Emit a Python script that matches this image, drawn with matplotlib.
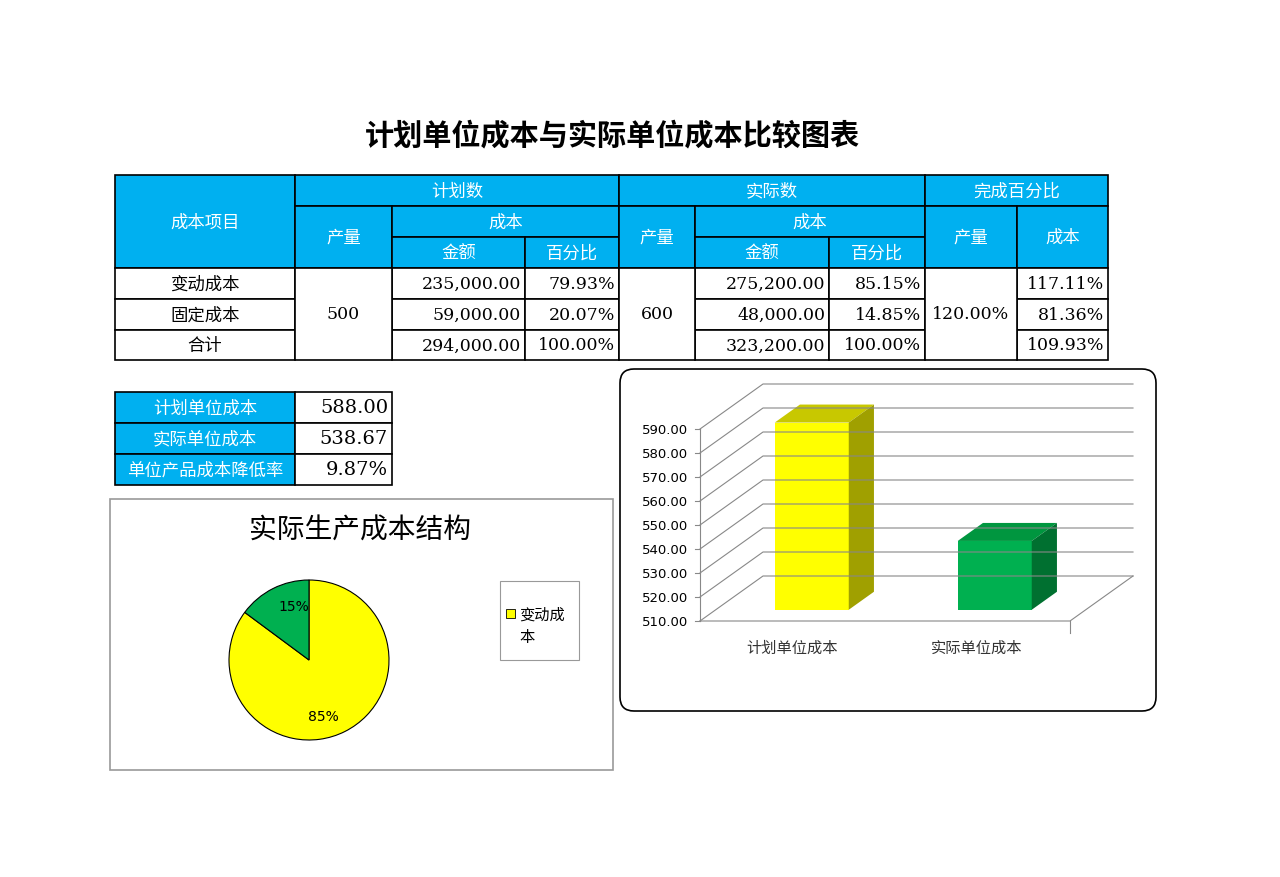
import matplotlib
matplotlib.use("Agg")
import matplotlib.pyplot as plt
from matplotlib.patches import Rectangle, Polygon, FancyBboxPatch

CJK = "Noto Sans CJK SC"
NUM = "DejaVu Serif"

title = "计划单位成本与实际单位成本比较图表"
row_labels = ["变动成本", "固定成本", "合计"]
plan_qty = "500"
plan_amount = ["235,000.00", "59,000.00", "294,000.00"]
plan_pct = ["79.93%", "20.07%", "100.00%"]
act_qty = "600"
act_amount = ["275,200.00", "48,000.00", "323,200.00"]
act_pct = ["85.15%", "14.85%", "100.00%"]
done_qty = "120.00%"
done_cost = ["117.11%", "81.36%", "109.93%"]
unit_labels = ["计划单位成本", "实际单位成本", "单位产品成本降低率"]
unit_values = ["588.00", "538.67", "9.87%"]

pie_title = "实际生产成本结构"
pie_labels = ["变动成本", "固定成本"]
pie_values = [85.15, 14.85]
pie_texts = ["85%", "15%"]

bar_categories = ["计划单位成本", "实际单位成本"]
bar_values = [588.00, 538.67]
y_ticks = [510, 520, 530, 540, 550, 560, 570, 580, 590]

BLUE = "#00B0F0"
fig = plt.figure(figsize=(12.8, 8.78), dpi=100)
ax0 = fig.add_axes([0, 0, 1, 1])
ax0.set_xlim(0, 1280); ax0.set_ylim(878, 0); ax0.axis("off")

ax0.text(612, 135, title, fontfamily=CJK, fontweight="bold", fontsize=21, ha="center", va="center")

def cell(x0, y0, x1, y1, txt, blue=False, font=CJK, ha="center", size=12.5):
    ax0.add_patch(Rectangle((x0, y0), x1 - x0, y1 - y0, fc=BLUE if blue else "white", ec="black", lw=1.2))
    if ha == "center":
        tx = (x0 + x1) / 2
    else:
        tx = x1 - 4
    ax0.text(tx, (y0 + y1) / 2, txt, fontfamily=font, fontsize=size, ha=ha, va="center",
             color="white" if blue else "black")

# header
cell(115, 176, 295, 269, "成本项目", True)
cell(295, 176, 619, 207, "计划数", True)
cell(619, 176, 925, 207, "实际数", True)
cell(925, 176, 1108, 207, "完成百分比", True)
cell(295, 207, 392, 269, "产量", True)
cell(392, 207, 619, 238, "成本", True)
cell(392, 238, 525, 269, "金额", True)
cell(525, 238, 619, 269, "百分比", True)
cell(619, 207, 695, 269, "产量", True)
cell(695, 207, 925, 238, "成本", True)
cell(695, 238, 829, 269, "金额", True)
cell(829, 238, 925, 269, "百分比", True)
cell(925, 207, 1017, 269, "产量", True)
cell(1017, 207, 1108, 269, "成本", True)
rows = [269, 300, 331, 361]
for i in range(3):
    y0, y1 = rows[i], rows[i + 1]
    cell(115, y0, 295, y1, row_labels[i])
    cell(392, y0, 525, y1, plan_amount[i], font=NUM, ha="right")
    cell(525, y0, 619, y1, plan_pct[i], font=NUM, ha="right")
    cell(695, y0, 829, y1, act_amount[i], font=NUM, ha="right")
    cell(829, y0, 925, y1, act_pct[i], font=NUM, ha="right")
    cell(1017, y0, 1108, y1, done_cost[i], font=NUM, ha="right")
cell(295, 269, 392, 361, plan_qty, font=NUM)
cell(619, 269, 695, 361, act_qty, font=NUM)
cell(925, 269, 1017, 361, done_qty, font=NUM)

urows = [393, 424, 455, 486]
for i in range(3):
    cell(115, urows[i], 295, urows[i + 1], unit_labels[i], True)
    cell(295, urows[i], 392, urows[i + 1], unit_values[i], font=NUM, ha="right", size=14)

# pie box
ax0.add_patch(Rectangle((110, 500), 503, 271, fc="white", ec="#999999", lw=1.2))
ax0.text(360, 531, pie_title, fontfamily=CJK, fontsize=20, ha="center", va="center")
ax0.add_patch(Rectangle((500, 582), 79, 79, fc="white", ec="#999999", lw=0.8))
ax0.add_patch(Rectangle((506, 610), 9, 9, fc="#FFFF00", ec="black", lw=0.6))
ax0.text(519, 615, pie_labels[0][:3], fontfamily=CJK, fontsize=11, va="center")
ax0.text(519, 638, pie_labels[0][3:], fontfamily=CJK, fontsize=11, va="center")

axp = fig.add_axes([229 / 1280, 1 - 741 / 878, 160 / 1280, 160 / 878])
axp.pie(pie_values, colors=["#FFFF00", "#00B050"], startangle=90, counterclock=False,
        wedgeprops=dict(edgecolor="black", linewidth=0.8))
axp.text(0.18, -0.7, pie_texts[0], fontsize=10, ha="center", va="center")
axp.text(-0.19, 0.68, pie_texts[1], fontsize=10, ha="center", va="center")
axp.set_xlim(-1.0, 1.0); axp.set_ylim(-1.0, 1.0)

# bar chart box
ax0.add_patch(FancyBboxPatch((620, 370), 536, 342, boxstyle="round,pad=0,rounding_size=14",
                             fc="white", ec="black", lw=1.2))
axb = fig.add_axes([700 / 1280, 1 - 622 / 878, 433 / 1280, 240 / 878])
axb.set_xlim(0, 433); axb.set_ylim(510, 610); axb.axis("off")
axb.patch.set_alpha(0)
DX, DY = 63, 18.75
g = "#888888"
for v in y_ticks:
    axb.plot([0, DX, 433], [v, v + DY, v + DY], color=g, lw=0.8, clip_on=False)
    axb.plot([-5, 0], [v, v], color=g, lw=0.8, clip_on=False)
    axb.text(-12, v, f"{v:.2f}", ha="right", va="center", fontsize=9.5, fontfamily="DejaVu Sans")
axb.plot([0, 0], [510, 590], color=g, lw=0.8, clip_on=False)
axb.plot([0, 370, 433], [510, 510, 510 + DY], color=g, lw=0.8, clip_on=False)
axb.plot([370, 370], [505, 510], color=g, lw=0.8, clip_on=False)

f0, f1 = 0.25, 0.65
lefts = [59, 242]
width = 74
styles = [("#FFFF00", "#C8C800", "#A0A000"), ("#00B050", "#00963F", "#007030")]
centers = [92, 277]
for left, val, (cf, ct, cs), cx, name in zip(lefts, bar_values, styles, centers, bar_categories):
    x0 = left + f0 * DX; y0 = 510 + f0 * DY; yt = val + f0 * DY
    ex, ey = (f1 - f0) * DX, (f1 - f0) * DY
    axb.add_patch(Polygon([(x0, y0), (x0 + width, y0), (x0 + width, yt), (x0, yt)], fc=cf, ec="none"))
    axb.add_patch(Polygon([(x0, yt), (x0 + width, yt), (x0 + width + ex, yt + ey), (x0 + ex, yt + ey)], fc=ct, ec="none"))
    axb.add_patch(Polygon([(x0 + width, y0), (x0 + width + ex, y0 + ey), (x0 + width + ex, yt + ey), (x0 + width, yt)], fc=cs, ec="none"))
    axb.text(cx, 499, name, ha="center", va="center", fontsize=11, fontfamily=CJK, color="#333333")

fig.savefig("out.png", dpi=100)
